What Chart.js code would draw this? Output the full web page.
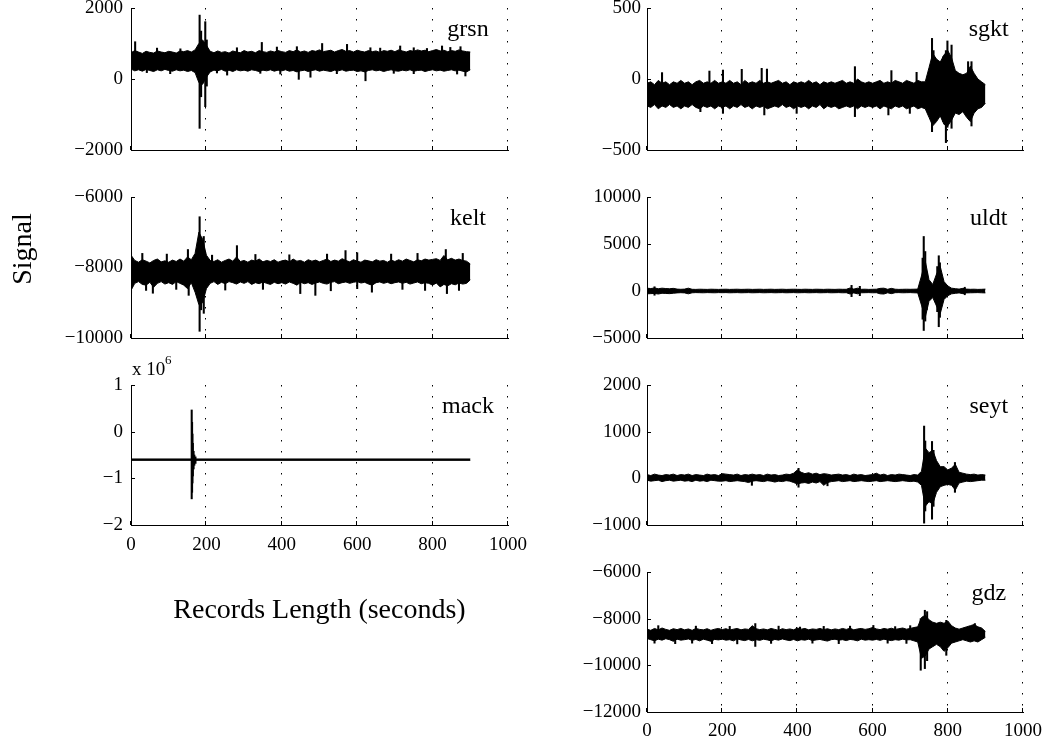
<!DOCTYPE html>
<html><head><meta charset="utf-8">
<script src="https://cdn.jsdelivr.net/npm/chart.js@4/dist/chart.umd.min.js"></script>
<style>
html,body{margin:0;padding:0;background:#fff;width:1047px;height:744px;overflow:hidden;position:relative}
canvas{position:absolute}
</style></head><body>
<script>
// ---------- DATA ----------
const xTickValues = [0, 200, 400, 600, 800, 1000];
// envelope samples every 10 s from 0 to 900 s
const sampleTimes = Array.from({length: 91}, (_, i) => i * 10);

const grsnTicks = [-2000, 0, 2000];
const grsnHi = [740,800,760,720,780,750,730,790,760,740, 780,760,730,790,770,800,760,820,1000,1100, 950,780,740,790,750,770,730,790,760,740, 800,760,780,740,800,770,750,790,760,800, 770,750,800,770,820,760,790,750,800,780, 820,770,790,810,760,800,830,780,800,760, 810,780,760,800,770,790,750,800,780,810, 770,820,790,760,800,780,820,790,810,770, 800,830,790,810,770,800,780,820,790,770, 760];
const grsnLo = [280,230,260,220,270,240,210,260,230,270, 240,220,260,230,250,210,240,180,-100,-150, 50,200,250,230,270,220,250,210,260,230, 250,220,260,240,210,250,230,260,220,250, 230,260,220,240,200,230,250,210,240,260, 220,250,230,210,250,230,260,220,240,250, 210,230,200,240,260,230,250,210,240,260, 230,220,250,230,260,220,240,250,210,240, 260,230,250,220,240,260,230,250,220,200, 260];
const grsnSpikes = [[11,500,1050],[42,180,500],[69,500,870],[104,150,500],[131,500,850],[182,-1390,1800],[186,-500,1350],[197,-780,1615],[201,-200,1100],[228,170,500],[255,110,500],[281,500,880],[343,160,500],[347,500,1030],[387,500,900],[396,140,500],[440,500,910],[445,-10,500],[476,50,500],[507,500,1000],[546,150,500],[573,500,975],[622,-50,500],[635,500,880],[661,500,870],[697,160,500],[714,500,930],[750,150,880],[785,500,860],[825,500,930],[847,500,890],[865,140,500],[874,500,910],[887,85,500]];

const keltTicks = [-10000, -8000, -6000];
const keltHi = [-7650,-7800,-7850,-7780,-7820,-7870,-7800,-7760,-7840,-7810, -7850,-7790,-7830,-7760,-7820,-7700,-7780,-7600,-7000,-7200, -7650,-7800,-7830,-7780,-7850,-7800,-7760,-7820,-7700,-7830, -7800,-7850,-7790,-7820,-7760,-7840,-7800,-7830,-7780,-7850, -7810,-7790,-7840,-7760,-7820,-7800,-7850,-7780,-7820,-7790, -7840,-7800,-7760,-7830,-7790,-7820,-7750,-7800,-7840,-7780, -7820,-7850,-7790,-7810,-7840,-7780,-7820,-7800,-7850,-7790, -7830,-7780,-7820,-7760,-7800,-7840,-7780,-7810,-7760,-7790, -7770,-7750,-7800,-7660,-7780,-7740,-7790,-7760,-7800,-7820, -7900];
const keltLo = [-8650,-8450,-8400,-8480,-8500,-8420,-8560,-8450,-8400,-8470, -8430,-8480,-8400,-8450,-8500,-8600,-8430,-8700,-9050,-9000, -8600,-8450,-8400,-8480,-8420,-8460,-8400,-8430,-8470,-8410, -8450,-8400,-8480,-8430,-8460,-8410,-8450,-8480,-8420,-8460, -8430,-8470,-8410,-8450,-8500,-8420,-8460,-8430,-8480,-8440, -8410,-8450,-8470,-8420,-8400,-8460,-8430,-8410,-8450,-8420, -8400,-8440,-8420,-8470,-8500,-8430,-8410,-8450,-8420,-8460, -8430,-8410,-8450,-8420,-8470,-8440,-8410,-8460,-8430,-8450, -8500,-8440,-8550,-8480,-8520,-8460,-8490,-8440,-8470,-8450, -8350];
const keltSpikes = [[0,-8730,-7580],[30,-8100,-7600],[40,-8650,-8100],[58,-8730,-8100],[95,-8100,-7620],[120,-8620,-8100],[151,-8200,-7490],[153,-8790,-8100],[182,-9810,-6560],[186,-9200,-7150],[193,-9300,-7120],[215,-8100,-7650],[250,-8640,-8100],[281,-8100,-7380],[330,-8100,-7630],[350,-8620,-8100],[420,-8100,-7640],[449,-8740,-8100],[489,-8790,-8100],[520,-8100,-7620],[530,-8660,-8100],[569,-8100,-7520],[600,-8600,-7580],[639,-8700,-8100],[690,-8100,-7620],[720,-8620,-8100],[760,-8100,-7600],[780,-8650,-8100],[835,-8100,-7490],[838,-8740,-8100],[870,-8650,-8100],[880,-8100,-7600]];

const mackTicks = [-2000000, -1000000, 0, 1000000];
const mackTimes = [0, 900];
const mackHi = [-585000, -585000];
const mackLo = [-615000, -615000];
const mackSpikes = [[161,-1440000,465000],[162,-1300000,200000],[163,-1100000,-50000],[164,-950000,-250000],[166,-800000,-420000],[168,-720000,-500000],[171,-680000,-540000]];

const sgktTicks = [-500, 0, 500];
const sgktHi = [-30,-20,-40,-10,-30,-20,-40,-20,-30,-10, -30,-20,-40,-20,-10,-30,-20,-30,-10,-30, -20,-30,-10,-30,-20,-40,-10,-30,-20,-30, -10,-30,-20,-30,-20,-10,-30,-20,-40,-20, -30,-20,-30,-10,-30,-20,-40,-20,-30,-20, -30,-20,-10,-30,-20,-30,0,-20,-30,-20, -30,-20,-10,-30,-20,-30,-10,-20,-30,-10, -20,-30,-10,-20,-20,80,180,140,120,170, 200,150,60,40,30,40,90,40,0,-20, -40];
const sgktLo = [-190,-200,-180,-210,-190,-200,-180,-200,-190,-210, -190,-200,-180,-200,-210,-190,-200,-190,-210,-190, -200,-190,-210,-190,-200,-180,-200,-190,-210,-190, -200,-190,-210,-200,-190,-200,-180,-200,-190,-210, -190,-200,-190,-210,-190,-200,-180,-210,-190,-200, -190,-210,-200,-190,-200,-190,-210,-190,-200,-190, -200,-190,-210,-190,-200,-210,-190,-200,-190,-210, -200,-190,-210,-200,-210,-270,-330,-300,-260,-320, -330,-290,-240,-250,-230,-270,-300,-240,-210,-200, -170];
const sgktSpikes = [[40,-110,45],[142,-230,-110],[166,-110,56],[202,-242,63],[252,-110,68],[305,-110,75],[312,-253,-110],[319,-110,70],[398,-242,-110],[553,-265,87],[642,-253,-110],[650,-110,59],[699,-242,-110],[717,-110,47],[758,-371,286],[762,-300,200],[788,-300,157],[795,-448,200],[799,-340,268],[810,-347,239],[854,-200,122],[863,-331,122]];

const uldtTicks = [-5000, 0, 5000, 10000];
const uldtHi = [300,260,320,240,300,260,240,280,200,180, 200,300,180,170,190,180,170,190,180,170, 180,190,170,180,190,170,180,190,170,180, 190,170,180,190,170,180,190,170,180,190, 180,170,190,180,170,190,180,170,190,180, 170,190,180,180,320,200,300,180,190,170, 180,190,280,300,180,280,190,170,180,190, 180,190,200,1600,3200,1200,700,1800,2600,1000, 540,300,250,200,280,200,180,190,170,180, 200];
const uldtLo = [-300,-280,-260,-320,-240,-260,-280,-240,-200,-180, -200,-300,-190,-170,-180,-190,-170,-180,-190,-170, -180,-170,-190,-180,-170,-190,-180,-170,-190,-180, -170,-190,-180,-170,-190,-180,-170,-190,-180,-170, -190,-180,-170,-190,-180,-170,-190,-180,-170,-190, -180,-170,-190,-180,-320,-200,-300,-190,-180,-170, -190,-180,-300,-320,-190,-280,-180,-170,-190,-180, -170,-190,-200,-1500,-2800,-1100,-700,-1600,-2400,-900, -500,-300,-250,-200,-280,-200,-190,-180,-170,-190, -200];
const uldtSpikes = [[20,-450,450],[544,-600,600],[566,-500,500],[733,-3000,3500],[736,-4200,5800],[740,-3200,4200],[744,-2000,2000],[772,-2200,2600],[776,-3800,3750],[779,-2800,3000],[845,-400,400]];

const seytTicks = [-1000, 0, 1000, 2000];
const seytHi = [80,60,90,70,60,80,70,90,60,80, 70,90,60,80,70,60,90,70,80,60, 100,90,80,70,90,60,80,70,90,70, 80,60,90,70,80,60,70,90,80,110, 180,130,100,120,90,110,80,100,90,70, 80,90,70,80,60,90,70,80,60,70, 80,110,70,90,60,80,70,90,80,70, 60,80,70,150,650,550,600,380,250,250, 180,220,300,130,110,90,80,90,70,80, 70];
const seytLo = [-40,-60,-50,-40,-70,-50,-40,-60,-50,-40, -60,-50,-70,-40,-60,-50,-70,-40,-50,-60, -60,-50,-70,-60,-50,-60,-70,-90,-60,-50, -60,-70,-50,-60,-80,-60,-70,-50,-60,-90, -120,-100,-90,-110,-80,-100,-70,-150,-90,-70, -60,-50,-70,-60,-50,-70,-60,-50,-60,-70, -60,-50,-70,-60,-50,-60,-70,-60,-50,-60, -70,-60,-80,-150,-600,-500,-550,-300,-180,-150, -130,-150,-250,-100,-80,-60,-70,-60,-50,-40, -40];
const seytSpikes = [[279,-150,40],[403,-190,215],[480,-160,40],[737,-960,1120],[740,-700,800],[758,-875,790],[762,-600,600],[819,-300,340]];

const gdzTicks = [-12000, -10000, -8000, -6000];
const gdzHi = [-8450,-8500,-8420,-8480,-8400,-8460,-8500,-8430,-8470,-8420, -8480,-8440,-8500,-8420,-8460,-8480,-8430,-8500,-8450,-8420, -8470,-8430,-8490,-8450,-8420,-8480,-8440,-8460,-8300,-8430, -8470,-8440,-8480,-8420,-8460,-8500,-8430,-8470,-8440,-8480, -8400,-8450,-8420,-8480,-8440,-8460,-8420,-8470,-8430,-8480, -8440,-8470,-8420,-8460,-8410,-8480,-8440,-8420,-8460,-8430, -8380,-8440,-8470,-8420,-8450,-8410,-8460,-8430,-8400,-8450, -8420,-8380,-8350,-7950,-7850,-8050,-8150,-8200,-8150,-8200, -8100,-8300,-8400,-8450,-8400,-8350,-8300,-8250,-8350,-8400, -8550];
const gdzLo = [-8850,-8900,-8950,-8880,-8920,-8860,-8900,-8970,-8880,-8920, -8900,-8870,-8930,-8890,-8950,-8880,-8920,-8970,-8890,-8910, -8880,-8920,-8900,-8950,-8870,-8910,-8940,-8890,-8950,-8900, -8930,-8880,-8910,-8950,-8890,-8920,-8870,-8910,-8940,-8890, -8950,-8900,-8920,-8880,-8940,-8910,-8890,-8930,-8960,-8900, -8880,-8920,-8900,-8940,-8890,-8910,-8950,-8880,-8920,-8900, -8920,-8890,-8930,-8880,-8910,-8940,-8900,-8920,-8880,-8910, -8900,-8950,-9000,-9700,-9600,-9300,-9200,-9100,-9200,-9400, -9250,-9050,-9000,-8950,-8900,-8950,-9000,-8950,-9000,-8900, -8800];
const gdzSpikes = [[20,-9050,-8680],[30,-8680,-8300],[75,-9070,-8600],[120,-9050,-8680],[130,-8680,-8320],[173,-9070,-8600],[220,-8680,-8330],[240,-9080,-8680],[288,-9190,-8210],[330,-9060,-8680],[350,-8680,-8320],[407,-8900,-8360],[440,-9050,-8680],[470,-8680,-8330],[510,-9070,-8680],[540,-8680,-8320],[602,-8900,-8290],[640,-9050,-8680],[660,-8680,-8340],[690,-9060,-8680],[700,-8680,-8300],[728,-10210,-8000],[739,-10140,-7640],[745,-9800,-7700],[796,-9570,-8070],[872,-8800,-8210]];

// ---------- LAYOUT ----------
const FONT = "'Liberation Serif', 'Times New Roman', Times, serif";
const L = {left: 0, w: 540, yw: 131, padR: 32, ypad: 8, nameFrac: 0.894};
const R = {left: 520, w: 540, yw: 127, padR: 37, ypad: 6, nameFrac: 0.909};
const minus = s => s.replace('-', '\u2212');

const panels = [
  {col: L, name: 'grsn', t: sampleTimes, hi: grsnHi, lo: grsnLo, spikes: grsnSpikes, ticks: grsnTicks, top: -12, padT: 20, plotH: 142, xh: 20, showX: false},
  {col: L, name: 'kelt', t: sampleTimes, hi: keltHi, lo: keltLo, spikes: keltSpikes, ticks: keltTicks, top: 177, padT: 20, plotH: 141, xh: 20, showX: false,
    texts: [{text: 'Signal', x: 31, y: 249, size: 28, rotate: true}]},
  {col: L, name: 'mack', t: mackTimes, hi: mackHi, lo: mackLo, spikes: mackSpikes, ticks: mackTicks, scale: 1e6, top: 349, padT: 36, plotH: 140, xh: 110, showX: true, xpad: 9,
    title: 'Records Length (seconds)',
    texts: [{text: 'x 10', x: 132, y: 375, size: 19, align: 'left'}, {text: '6', x: 165, y: 364, size: 13, align: 'left'}]},
  {col: R, name: 'sgkt', t: sampleTimes, hi: sgktHi, lo: sgktLo, spikes: sgktSpikes, ticks: sgktTicks, top: -12, padT: 20, plotH: 142, xh: 20, showX: false},
  {col: R, name: 'uldt', t: sampleTimes, hi: uldtHi, lo: uldtLo, spikes: uldtSpikes, ticks: uldtTicks, top: 177, padT: 20, plotH: 141, xh: 20, showX: false},
  {col: R, name: 'seyt', t: sampleTimes, hi: seytHi, lo: seytLo, spikes: seytSpikes, ticks: seytTicks, top: 365, padT: 20, plotH: 140, xh: 20, showX: false},
  {col: R, name: 'gdz', t: sampleTimes, hi: gdzHi, lo: gdzLo, spikes: gdzSpikes, ticks: gdzTicks, top: 552, padT: 20, plotH: 140, xh: 32, showX: true, xpad: 8}
];

function makeDecor(p) {
  return {
    id: 'decor',
    beforeDatasetsDraw(chart) {
      const {ctx, chartArea: a} = chart;
      const xs = chart.scales.x, ys = chart.scales.y;
      ctx.save();
      ctx.strokeStyle = '#000';
      ctx.lineWidth = 1;
      ctx.setLineDash([1.5, 9.5]);
      xTickValues.forEach(v => {
        if (v === 0) return;
        const px = Math.round(xs.getPixelForValue(v)) - 0.5;
        ctx.beginPath(); ctx.moveTo(px, a.top); ctx.lineTo(px, a.bottom); ctx.stroke();
      });
      ctx.setLineDash([]);
      ctx.beginPath();
      xTickValues.forEach(v => {
        const px = Math.round(xs.getPixelForValue(v)) - 0.5;
        ctx.moveTo(px, a.bottom); ctx.lineTo(px, a.bottom - 4);
      });
      p.ticks.forEach(v => {
        const py = Math.round(ys.getPixelForValue(v)) + 0.5;
        ctx.moveTo(a.left, py); ctx.lineTo(a.left + 4, py);
      });
      ctx.stroke();
      ctx.restore();
    },
    afterDraw(chart) {
      const {ctx, chartArea: a} = chart;
      ctx.save();
      ctx.fillStyle = '#000';
      ctx.font = '24px ' + FONT;
      ctx.textAlign = 'center';
      ctx.textBaseline = 'alphabetic';
      ctx.fillText(p.name, a.left + p.col.nameFrac * (a.right - a.left), a.top + 28);
      (p.texts || []).forEach(t => {
        ctx.save();
        ctx.font = t.size + 'px ' + FONT;
        const x = t.x - p.col.left, y = t.y - p.top;
        if (t.rotate) {
          ctx.translate(x, y); ctx.rotate(-Math.PI / 2);
          ctx.textAlign = 'center'; ctx.fillText(t.text, 0, 0);
        } else {
          ctx.textAlign = t.align || 'left'; ctx.fillText(t.text, x, y);
        }
        ctx.restore();
      });
      ctx.restore();
    }
  };
}

panels.forEach(p => {
  const c = p.col;
  const h = p.padT + p.plotH + p.xh;
  const cv = document.createElement('canvas');
  cv.width = c.w; cv.height = h;
  cv.style.left = c.left + 'px'; cv.style.top = p.top + 'px';
  cv.style.width = c.w + 'px'; cv.style.height = h + 'px';
  document.body.appendChild(cv);
  const pts = (t, v) => t.map((x, i) => ({x: x, y: v[i]}));
  const sc = p.scale || 1;
  new Chart(cv, {
    type: 'line',
    data: {
      datasets: [
        {type: 'line', data: pts(p.t, p.hi), borderColor: '#000', borderWidth: 1, pointRadius: 0, fill: false, tension: 0},
        {type: 'line', data: pts(p.t, p.lo), borderColor: '#000', borderWidth: 1, pointRadius: 0, fill: '-1', backgroundColor: '#000', tension: 0},
        {type: 'bar', data: p.spikes.map(s => ({x: s[0], y: [s[1], s[2]]})), backgroundColor: '#000', borderWidth: 0, barThickness: 1.4}
      ]
    },
    options: {
      responsive: false, animation: false, events: [],
      layout: {padding: {top: p.padT, right: c.padR, left: 0, bottom: 0}},
      plugins: {legend: {display: false}, tooltip: {enabled: false}},
      scales: {
        x: {
          type: 'linear', min: 0, max: 1000, offset: false,
          afterBuildTicks: s => { s.ticks = xTickValues.map(v => ({value: v})); },
          afterFit: s => { s.height = p.xh; },
          ticks: {display: p.showX, font: {family: FONT, size: 19}, color: '#000', padding: p.xpad || 8, maxRotation: 0, callback: v => String(v)},
          grid: {display: false, drawTicks: false},
          border: {display: true, color: '#000', width: 1},
          title: p.title ? {display: true, text: p.title, color: '#000', font: {family: FONT, size: 28}, padding: {top: 0, bottom: 8}} : {display: false}
        },
        y: {
          type: 'linear', min: p.ticks[0], max: p.ticks[p.ticks.length - 1],
          afterBuildTicks: s => { s.ticks = p.ticks.map(v => ({value: v})); },
          afterFit: s => { s.width = c.yw; },
          ticks: {font: {family: FONT, size: 19}, color: '#000', padding: c.ypad, callback: v => minus(String(v / sc))},
          grid: {display: false, drawTicks: false},
          border: {display: true, color: '#000', width: 1}
        }
      }
    },
    plugins: [makeDecor(p)]
  });
});
</script>
</body></html>
